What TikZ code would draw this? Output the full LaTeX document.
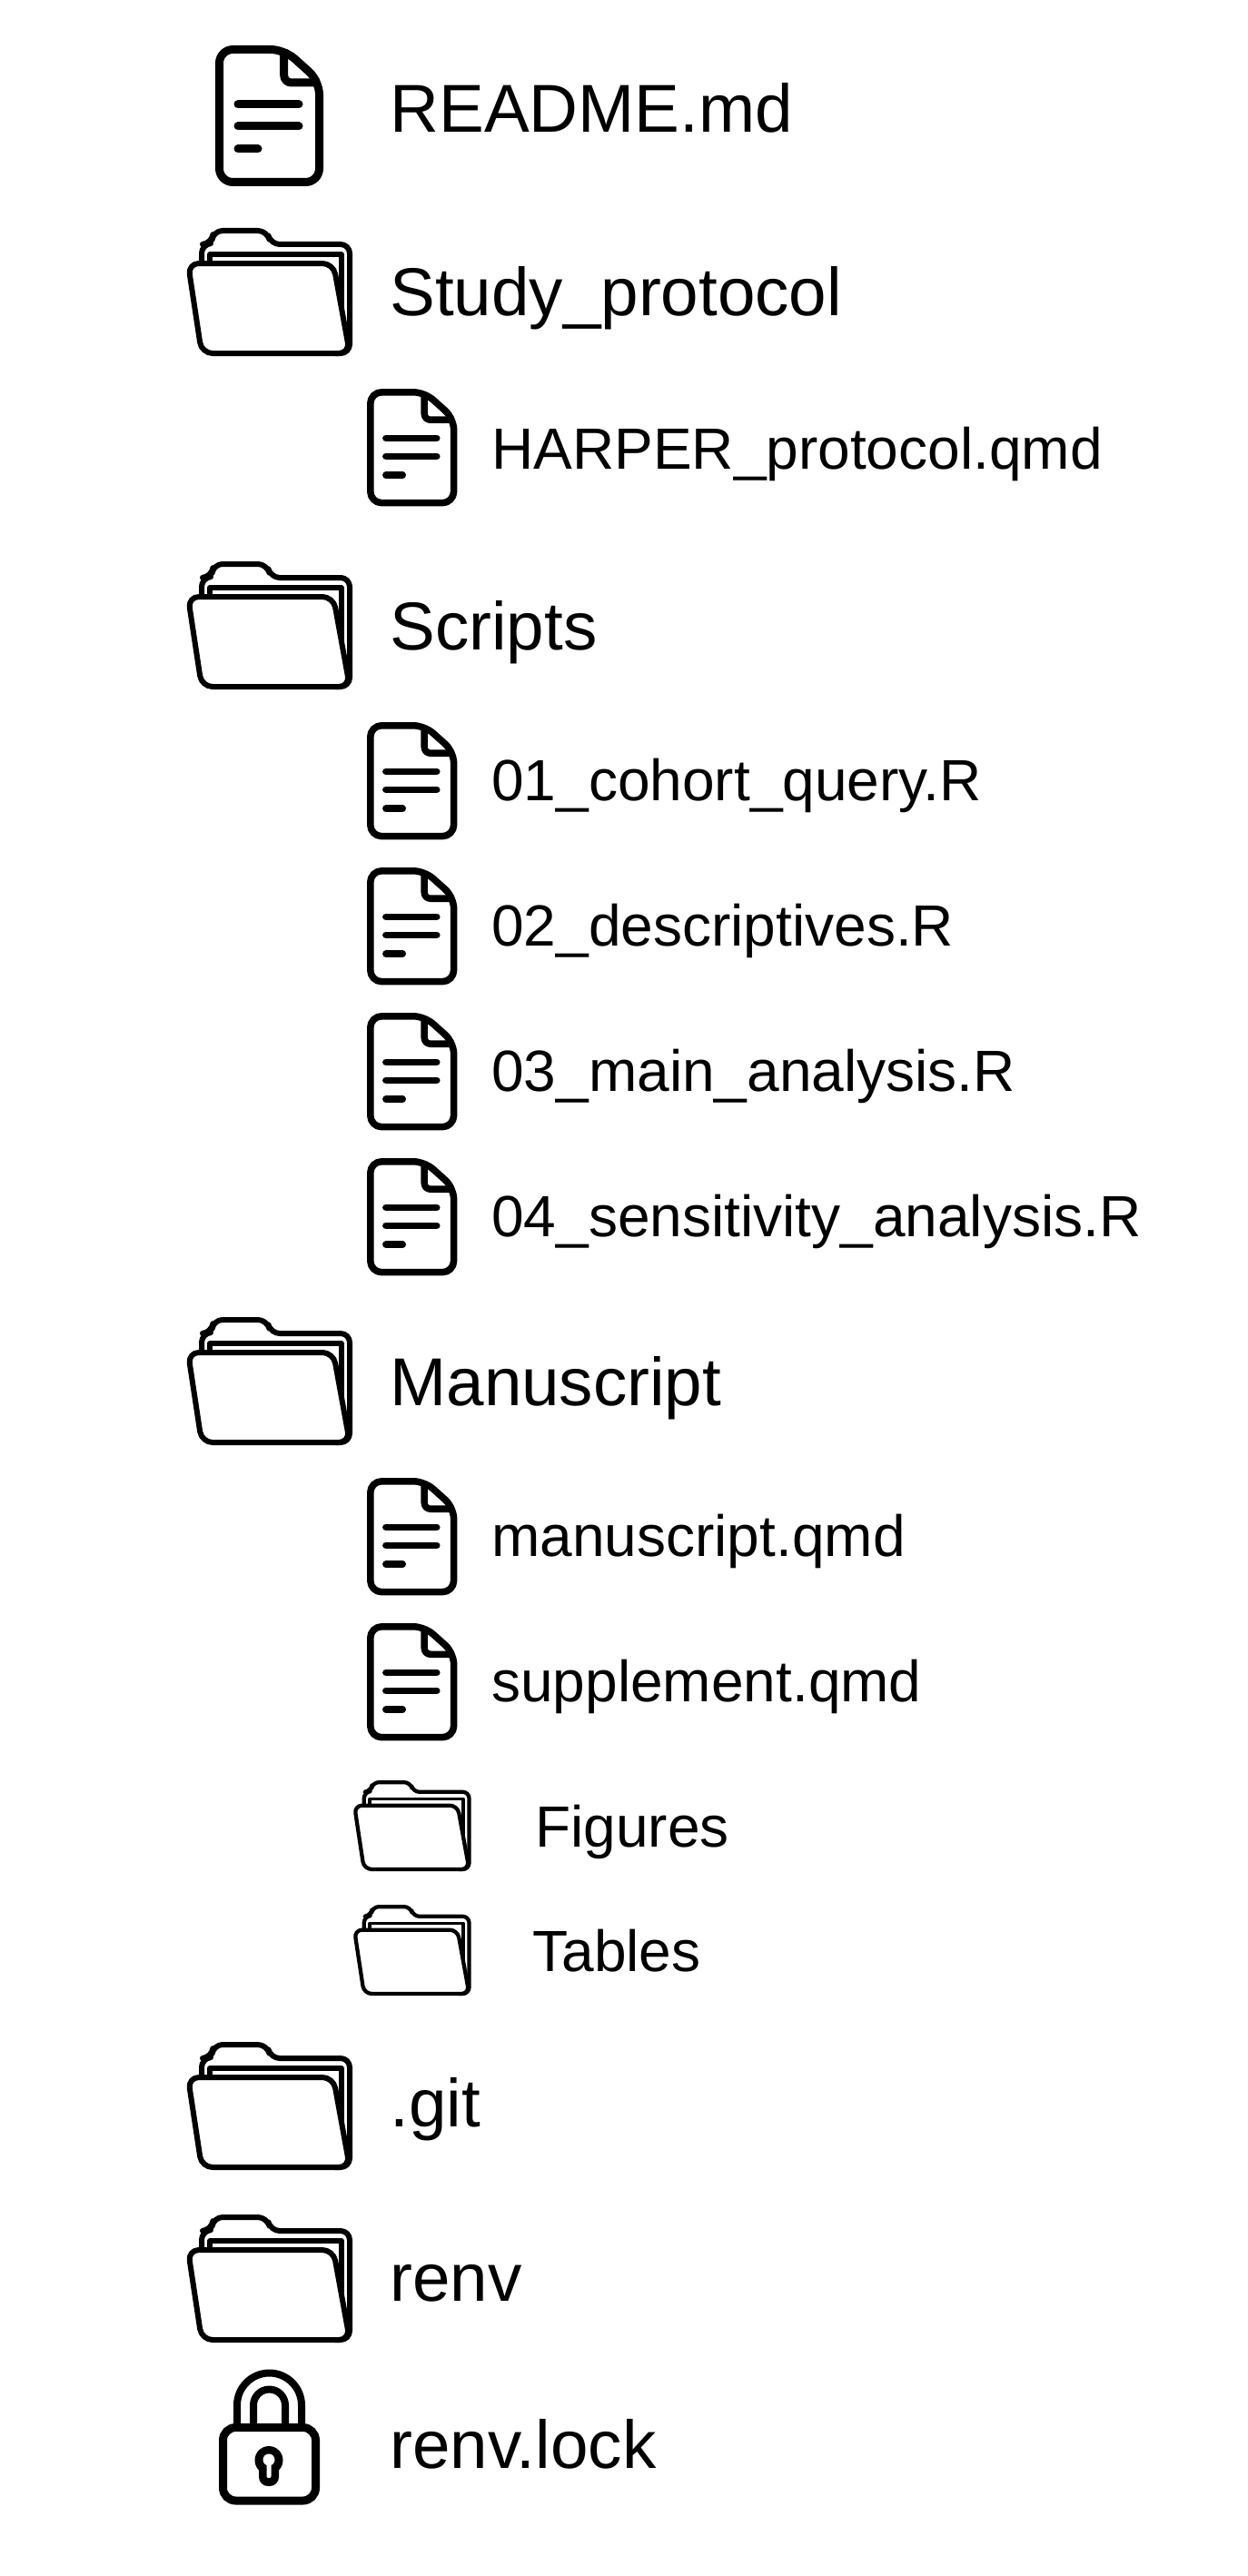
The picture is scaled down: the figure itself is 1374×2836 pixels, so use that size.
\documentclass[tikz,border=0pt]{standalone}
\usepackage{fontspec}
\setmainfont{Liberation Sans}
\tikzset{
	bigname/.style={anchor=base west,inner sep=0pt,font=\fontsize{37.3pt}{40pt}\selectfont},
	smallname/.style={anchor=base west,inner sep=0pt,font=\fontsize{32pt}{36pt}\selectfont}
}
% #1,#2 = top left corner, #3 = scale
\newcommand{\docicon}[3]{
	\begin{scope}[shift={(#1,#2)},scale=#3,line width=#3*4.5pt,line join=round]
		\draw[rounded corners=#3*7.5pt] (76,4.5) -- (4.5,4.5) -- (4.5,150.5) -- (114.5,150.5) -- (114.5,39) -- cycle;
		\draw[rounded corners=#3*4pt] (75.7,4.5) -- (75.7,41) -- (114.5,41);
		\draw[line cap=round] (25,65) -- (92,65) (25,89) -- (92,89) (25,114) -- (47,114);
	\end{scope}
}
\newcommand{\foldericon}[3]{
	\begin{scope}[shift={(#1,#2)},scale=#3,line width=#3*3pt,line join=round]
		\draw[rounded corners=#3*5pt] (18,40) -- (18,18) -- (29,17) -- (31,3) -- (90,3) -- (94,18) -- (181,18) -- (181,138) -- (165,138);
		\draw[line width=#3*2.6pt] (27,40) -- (27,29) -- (172,29) -- (172,100);
		\draw[fill=white,rounded corners=#3*6pt] (3,39) -- (163,39) -- (181,138) -- (18,138) -- cycle;
	\end{scope}
}
\begin{document}
\begin{tikzpicture}[x=0.5pt,y=-0.5pt]
	\useasboundingbox (0,0) rectangle (1374,2836);
	\docicon{237}{50}{1}
	\node[bigname] (readme) at (429,146) {README.md};
	%
	\foldericon{204}{251}{1}
	\node[bigname] (study) at (429,347) {Study\_protocol};
	\docicon{404}{428}{0.835}
	\node[smallname] (harper) at (541,516) {HARPER\_protocol.qmd};
	%
	\foldericon{204}{618}{1}
	\node[bigname] (scripts) at (429,715) {Scripts};
	\docicon{404}{795}{0.835}
	\node[smallname] (cohort) at (541,881) {01\_cohort\_query.R};
	\docicon{404}{955}{0.835}
	\node[smallname] (desc) at (541,1041) {02\_descriptives.R};
	\docicon{404}{1115}{0.835}
	\node[smallname] (main) at (541,1201) {03\_main\_analysis.R};
	\docicon{404}{1275}{0.835}
	\node[smallname] (sens) at (541,1361) {04\_sensitivity\_analysis.R};
	%
	\foldericon{204}{1450}{1}
	\node[bigname] (manu) at (429,1547) {Manuscript};
	\docicon{404}{1627}{0.835}
	\node[smallname] (manuqmd) at (541,1713) {manuscript.qmd};
	\docicon{404}{1787}{0.835}
	\node[smallname] (supp) at (541,1873) {supplement.qmd};
	\foldericon{388}{1960}{0.71}
	\node[smallname] (figs) at (589,2033) {Figures};
	\foldericon{388}{2097}{0.71}
	\node[smallname] (tabs) at (586,2170) {Tables};
	%
	\foldericon{204}{2248}{1}
	\node[bigname] (git) at (429,2341) {.git};
	\foldericon{204}{2438}{1}
	\node[bigname] (renv) at (429,2533) {renv};
	%
	\draw[line width=4pt] (296.5,2668) ++(-35.5,0) -- +(0,-20) arc (180:360:35.5) -- +(0,20);
	\draw[line width=4pt] (296.5,2668) ++(-17.5,0) -- +(0,-20) arc (180:360:17.5) -- +(0,20);
	\draw[line width=4.5pt,rounded corners=7pt] (245.5,2672.5) rectangle (347.5,2753);
	\fill (296,2708.5) circle (15.5);
	\fill[rounded corners=5pt] (285,2708) rectangle (307,2737);
	\fill[white] (296,2708) circle (6.5);
	\fill[white,rounded corners=1pt] (293.5,2708) rectangle (298.5,2728);
	\node[bigname] (lockname) at (429,2717) {renv.lock};
\end{tikzpicture}
\end{document}
